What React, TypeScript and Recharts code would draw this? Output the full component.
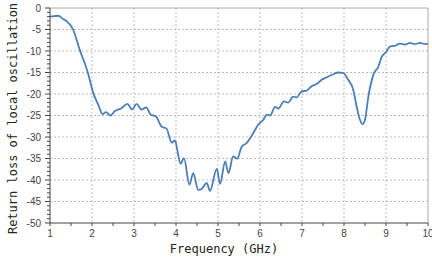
import {
  LineChart, Line, XAxis, YAxis, CartesianGrid, ReferenceLine,
} from "recharts";

const freq = [
  1.0, 1.1, 1.2, 1.3, 1.4, 1.55, 1.7, 1.9, 2.03, 2.15, 2.25, 2.33, 2.44, 2.54, 2.7,
  2.84, 2.96, 3.06, 3.18, 3.29, 3.4, 3.52, 3.66, 3.77, 3.9, 3.98, 4.03, 4.11, 4.19,
  4.32, 4.41, 4.53, 4.61, 4.73, 4.81, 4.97, 5.05, 5.17, 5.25, 5.36, 5.46, 5.56, 5.68,
  5.84, 5.96, 6.08, 6.16, 6.24, 6.36, 6.44, 6.57, 6.67, 6.79, 6.87, 6.99, 7.11, 7.23,
  7.35, 7.47, 7.59, 7.75, 7.86, 7.98, 8.1, 8.22, 8.3, 8.38, 8.44, 8.5, 8.58, 8.7,
  8.82, 8.9, 9.0, 9.1, 9.21, 9.33, 9.45, 9.57, 9.69, 9.81, 9.93, 10.0,
];

const returnLoss = [
  -2.0, -1.9, -1.8, -2.5, -3.1, -5.0, -9.5, -15.0, -19.8, -22.5, -24.7, -24.2, -25.0, -24.0, -23.3,
  -22.3, -23.6, -22.3, -23.6, -23.1, -24.8, -25.2, -27.6, -28.0, -31.3, -30.8, -33.0, -36.2, -34.9,
  -41.1, -38.4, -42.3, -42.1, -40.7, -42.5, -37.4, -40.9, -35.7, -38.4, -34.5, -35.0, -32.3, -31.4,
  -29.1, -27.1, -26.0, -24.8, -25.0, -23.0, -23.4, -21.7, -22.0, -20.6, -20.8, -19.4, -19.2, -18.2,
  -17.7, -16.7, -16.1, -15.4, -15.0, -15.1, -16.7, -19.0, -22.9, -26.0, -27.0, -26.0, -20.6, -15.5,
  -13.6, -11.3, -10.3, -8.9, -8.8, -8.3, -8.5, -8.1, -8.4, -8.1, -8.4, -8.3,
];

const xTicks = [1, 1.5, 2, 2.5, 3, 3.5, 4, 4.5, 5, 5.5, 6, 6.5, 7, 7.5, 8, 8.5, 9, 9.5, 10];
const xGrid = [2, 3, 4, 5, 6, 7, 8, 9];
const yTicks = Array.from({ length: 51 }, (_, i) => i - 50);
const yGrid = [-45, -40, -35, -30, -25, -20, -15, -10, -5];

const data = freq.map((f, i) => ({ f, v: returnLoss[i] }));

const tickFont = "'Liberation Sans', Arial, sans-serif";
const labelFont = "'DejaVu Sans Mono', monospace";

const XTick = ({ x, y, payload }: any) => {
  const major = Number.isInteger(payload.value);
  return (
    <g>
      <line x1={x} x2={x} y1={y} y2={y + 3} stroke="#444" />
      {major && (
        <text x={x} y={y + 14} textAnchor="middle" fontSize={10} fill="#444" fontFamily={tickFont}>
          {payload.value}
        </text>
      )}
    </g>
  );
};

const YTick = ({ x, y, payload }: any) => {
  const major = payload.value % 5 === 0;
  return (
    <g>
      <line x1={x - (major ? 5 : 3)} x2={x} y1={y} y2={y} stroke="#444" />
      {major && (
        <text x={x - 9} y={y + 3.5} textAnchor="end" fontSize={10} fill="#444" fontFamily={tickFont}>
          {payload.value}
        </text>
      )}
    </g>
  );
};

const App = () => {
  return (
    <div style={{ position: "absolute", left: 0, top: 0, background: "#fff" }}>
      <LineChart width={432} height={259} data={data} margin={{ top: 8, right: 4, bottom: 0, left: 0 }}>
        <CartesianGrid
          stroke="#bbb"
          strokeDasharray="2 2"
          horizontalValues={yGrid}
          verticalValues={xGrid}
        />
        <ReferenceLine y={0} stroke="#aaa" ifOverflow="extendDomain" />
        <ReferenceLine x={10} stroke="#aaa" />
        <XAxis
          dataKey="f"
          type="number"
          domain={[1, 10]}
          ticks={xTicks}
          interval={0}
          height={36}
          tickSize={0}
          tickMargin={0}
          tickLine={false}
          stroke="#444"
          tick={<XTick />}
          label={({ viewBox }: any) => (
            <text
              x={viewBox.x + viewBox.width / 2 - 15}
              y={viewBox.y + 30}
              textAnchor="middle"
              fontSize={12}
              fill="#222"
              fontFamily={labelFont}
            >
              Frequency (GHz)
            </text>
          )}
        />
        <YAxis
          type="number"
          domain={[-50, 0]}
          ticks={yTicks}
          interval={0}
          width={50}
          tickSize={0}
          tickMargin={0}
          tickLine={false}
          stroke="#444"
          tick={<YTick />}
          label={({ viewBox }: any) => {
            const cx = 13;
            const cy = viewBox.y + viewBox.height / 2 + 3;
            return (
              <text
                x={cx}
                y={cy}
                transform={`rotate(-90 ${cx} ${cy})`}
                textAnchor="middle"
                dominantBaseline="central"
                fontSize={12}
                fill="#222"
                fontFamily={labelFont}
              >
                Return loss of local oscillation
              </text>
            );
          }}
        />
        <Line
          type="monotone"
          dataKey="v"
          stroke="#4a7ebb"
          strokeWidth={1.8}
          dot={false}
          isAnimationActive={false}
        />
      </LineChart>
    </div>
  );
};

export default App;
